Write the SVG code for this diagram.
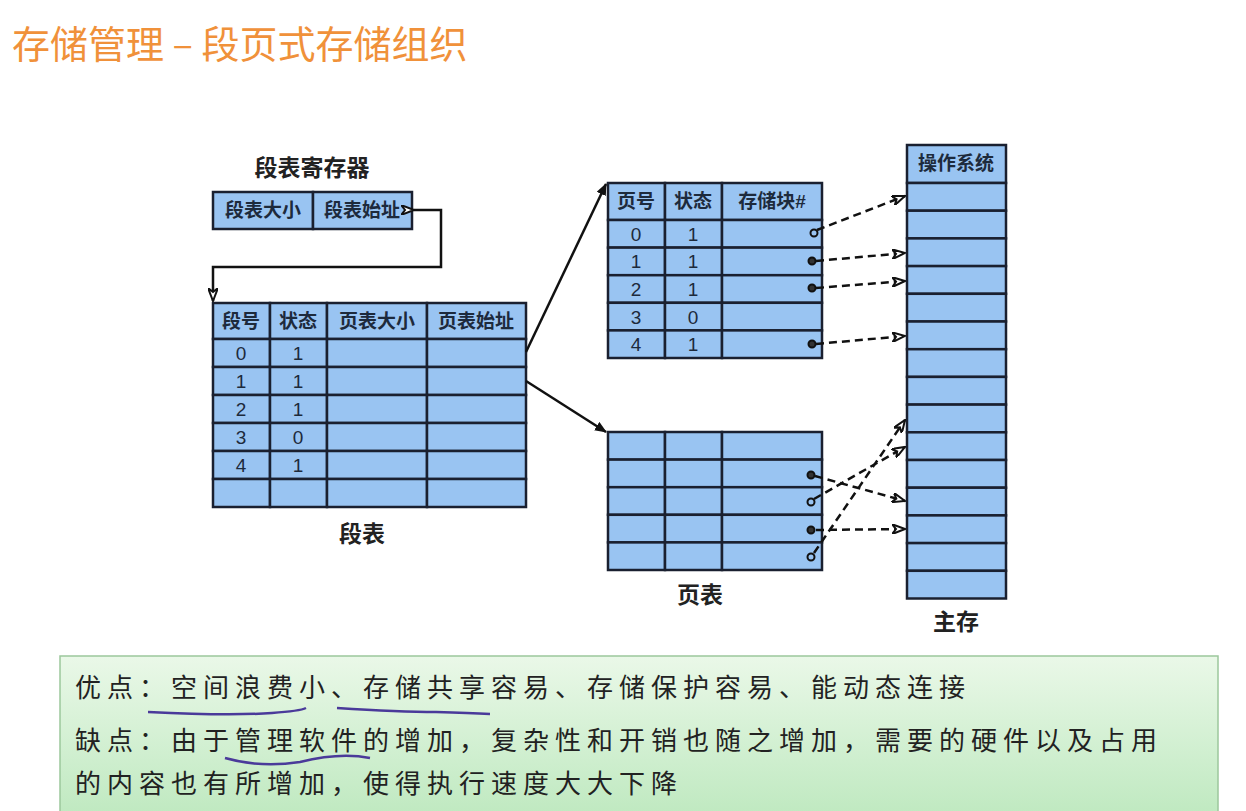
<svg xmlns="http://www.w3.org/2000/svg" width="1246" height="811" viewBox="0 0 1246 811">
<defs>
<style>
.c{fill:#99c4f2;stroke:#1a2030;stroke-width:2.5}
.t{font-family:"Liberation Sans","Noto Sans CJK SC",sans-serif;font-size:19px;fill:#1d2a3c;text-anchor:middle;font-weight:bold}
.n{font-family:"Liberation Sans",sans-serif;font-size:19px;fill:#1d2a3c;text-anchor:middle}
.l{font-family:"Noto Sans CJK SC",sans-serif;font-size:23px;fill:#222;text-anchor:middle;font-weight:bold}
.ln{fill:none;stroke:#111;stroke-width:2.5}
.d{fill:none;stroke:#111;stroke-width:2.5;stroke-dasharray:8 5}
.b{font-family:"Noto Sans CJK SC",sans-serif;font-size:26px;fill:#222;letter-spacing:6px}
.u{fill:none;stroke:#4a3a9a;stroke-width:2.5}
</style>
<marker id="a" viewBox="0 0 12 10" refX="11" refY="5" markerWidth="12" markerHeight="10" markerUnits="userSpaceOnUse" orient="auto-start-reverse"><path d="M0,0 L12,5 L0,10 Z" fill="#111"/></marker>
<marker id="h" viewBox="0 0 14 10" refX="13" refY="5" markerWidth="14" markerHeight="10" markerUnits="userSpaceOnUse" orient="auto"><path d="M0,0 L13,5 L0,10 L4,5 Z" fill="#fff" stroke="#111" stroke-width="2"/></marker>
<linearGradient id="g" x1="0" y1="0" x2="0" y2="1"><stop offset="0" stop-color="#eaf8e8"/><stop offset="1" stop-color="#bfe9c0"/></linearGradient>
</defs>
<rect width="1246" height="811" fill="#fff"/>
<text x="12" y="58" font-family="Noto Sans CJK SC,sans-serif" font-size="38" fill="#f0913a">存储管理 – 段页式存储组织</text>

<g id="reg">
<text class="l" x="312" y="176">段表寄存器</text>
<rect class="c" x="213" y="192" width="100" height="37"/><rect class="c" x="313" y="192" width="99" height="37"/>
<text class="t" x="263" y="217">段表大小</text><text class="t" x="362" y="217">段表始址</text>
</g>

<g id="segtable">
<rect class="c" x="213" y="303" width="57" height="36"/><rect class="c" x="270" y="303" width="57" height="36"/><rect class="c" x="327" y="303" width="100" height="36"/><rect class="c" x="427" y="303" width="99" height="36"/>
<text class="t" x="241" y="328">段号</text><text class="t" x="298" y="328">状态</text><text class="t" x="377" y="328">页表大小</text><text class="t" x="476" y="328">页表始址</text>
<g id="sr">
<rect class="c" x="213" y="339" width="57" height="28"/><rect class="c" x="270" y="339" width="57" height="28"/><rect class="c" x="327" y="339" width="100" height="28"/><rect class="c" x="427" y="339" width="99" height="28"/>
</g>
<use href="#sr" y="28"/><use href="#sr" y="56"/><use href="#sr" y="84"/><use href="#sr" y="112"/><use href="#sr" y="140"/>
<text class="n" x="241" y="360">0</text><text class="n" x="298" y="360">1</text>
<text class="n" x="241" y="388">1</text><text class="n" x="298" y="388">1</text>
<text class="n" x="241" y="416">2</text><text class="n" x="298" y="416">1</text>
<text class="n" x="241" y="444">3</text><text class="n" x="298" y="444">0</text>
<text class="n" x="241" y="472">4</text><text class="n" x="298" y="472">1</text>
<text class="l" x="362" y="542">段表</text>
</g>

<g id="pt1">
<rect class="c" x="608" y="183" width="57" height="37"/><rect class="c" x="665" y="183" width="57" height="37"/><rect class="c" x="722" y="183" width="100" height="37"/>
<text class="t" x="636" y="208">页号</text><text class="t" x="693" y="208">状态</text><text class="t" x="772" y="208">存储块#</text>
<g id="pr">
<rect class="c" x="608" y="220" width="57" height="27.6"/><rect class="c" x="665" y="220" width="57" height="27.6"/><rect class="c" x="722" y="220" width="100" height="27.6"/>
</g>
<use href="#pr" y="27.6"/><use href="#pr" y="55.2"/><use href="#pr" y="82.8"/><use href="#pr" y="110.4"/>
<text class="n" x="636" y="241">0</text><text class="n" x="693" y="241">1</text>
<text class="n" x="636" y="268">1</text><text class="n" x="693" y="268">1</text>
<text class="n" x="636" y="296">2</text><text class="n" x="693" y="296">1</text>
<text class="n" x="636" y="324">3</text><text class="n" x="693" y="324">0</text>
<text class="n" x="636" y="351">4</text><text class="n" x="693" y="351">1</text>
</g>

<g id="pt2">
<use href="#pr" y="212"/><use href="#pr" y="239.6"/><use href="#pr" y="267.2"/><use href="#pr" y="294.8"/><use href="#pr" y="322.4"/>
<text class="l" x="700" y="603">页表</text>
</g>

<g id="mem">
<rect class="c" x="907" y="145" width="99" height="38"/>
<text class="t" x="956" y="170">操作系统</text>
<g id="mr"><rect class="c" x="907" y="183" width="99" height="27.7"/></g>
<use href="#mr" y="27.7"/><use href="#mr" y="55.4"/><use href="#mr" y="83.1"/><use href="#mr" y="110.8"/><use href="#mr" y="138.5"/><use href="#mr" y="166.2"/><use href="#mr" y="193.9"/><use href="#mr" y="221.6"/><use href="#mr" y="249.3"/><use href="#mr" y="277"/><use href="#mr" y="304.7"/><use href="#mr" y="332.4"/><use href="#mr" y="360.1"/><use href="#mr" y="387.8"/>
<text class="l" x="956" y="630">主存</text>
</g>

<g id="connectors">
<path class="ln" d="M414,210 L441,210 L441,267 L213,267 L213,301" marker-start="url(#h)" marker-end="url(#h)"/>
<path class="ln" d="M526,352 L606,184" marker-end="url(#a)"/>
<path class="ln" d="M526,381 L606,432" marker-end="url(#a)"/>
<g fill="none" stroke="#111" stroke-width="2">
<circle cx="814" cy="233" r="3.5"/><circle cx="812" cy="261" r="3.5" fill="#333"/><circle cx="812" cy="288" r="3.5" fill="#333"/><circle cx="812" cy="344" r="3.5" fill="#333"/>
<circle cx="811" cy="475" r="3.5" fill="#333"/><circle cx="811" cy="502" r="3.5"/><circle cx="811" cy="530" r="3.5" fill="#333"/><circle cx="811" cy="557" r="3.5"/>
</g>
<path class="d" d="M817,230 L905,196" marker-end="url(#h)"/>
<path class="d" d="M816,261 L905,253" marker-end="url(#h)"/>
<path class="d" d="M816,288 L905,281" marker-end="url(#h)"/>
<path class="d" d="M816,344 L905,336" marker-end="url(#h)"/>
<path class="d" d="M815,476 L905,501" marker-end="url(#h)"/>
<path class="d" d="M814,499 L905,447" marker-end="url(#h)"/>
<path class="d" d="M816,530 L905,529" marker-end="url(#h)"/>
<path class="d" d="M814,553 L905,420" marker-end="url(#h)"/>
</g>

<g id="note">
<rect x="60" y="656" width="1158" height="160" fill="url(#g)" stroke="#9cc79c" stroke-width="1.5"/>
<text class="b" x="75" y="697">优点：空间浪费小、存储共享容易、存储保护容易、能动态连接</text>
<text class="b" x="75" y="750">缺点：由于管理软件的增加，复杂性和开销也随之增加，需要的硬件以及占用</text>
<text class="b" x="75" y="793">的内容也有所增加，使得执行速度大大下降</text>
<path class="u" d="M148,712 Q230,716 272,713 Q300,711 306,708"/>
<path class="u" d="M337,708 Q400,712 436,712 Q470,713 490,714"/>
<path class="u" d="M225,758 Q260,768 300,762 Q340,752 370,758"/>
</g>
</svg>
